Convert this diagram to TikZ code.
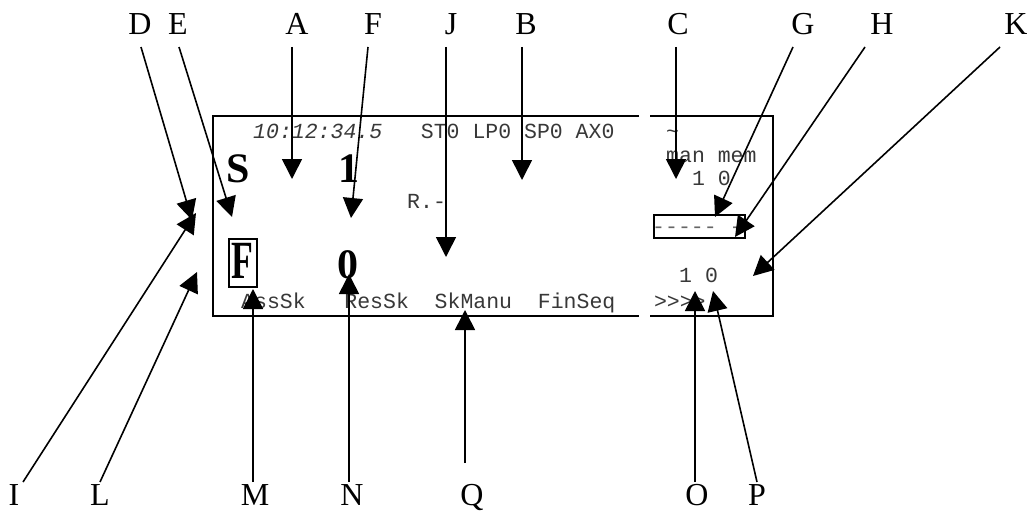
\documentclass[tikz,border=0pt]{standalone}
\usepackage{fontspec}
\setmainfont{Liberation Serif}
\setmonofont{Liberation Mono}
\usetikzlibrary{arrows.meta,calc}
\newcommand\kz{\kern0pt }
\begin{document}
\begin{tikzpicture}[x=1pt,y=-1pt,
  lbl/.style={font=\fontsize{32}{32}\selectfont, inner sep=0pt, anchor=base},
  mono/.style={font=\ttfamily\fontsize{21.5}{22}\selectfont, text=black!78, inner sep=0pt, anchor=base west},
  monoit/.style={mono, font=\ttfamily\itshape\fontsize{21.5}{22}\selectfont},
  bigb/.style={font=\bfseries\fontsize{42}{42}\selectfont, inner sep=0pt, anchor=base west},
  arr/.style={line width=1.6pt, -{Triangle[length=20pt,width=20pt]}},
  frame/.style={line width=2pt}]
\useasboundingbox (0,0) rectangle (1027,511);
% frame with gaps
\draw[frame] (639,116) -- (213,116) -- (213,316) -- (639,316);
\draw[frame] (650,116) -- (773,116) -- (773,316) -- (650,316);
\draw[frame] (654,215) rectangle (745,238);
\draw[frame] (229,239) rectangle (257,287);
% screen texts
\node[monoit] (tm) at (253,138) {10:12:34.5};
\node[mono] (st) at (420.7,138) {ST0 LP0 SP0 AX0};
\node[mono] (tl) at (665.8,138) {\textasciitilde};
\node[mono] (mm) at (666,162) {man mem};
\node[mono] (u10) at (691.8,185) {1 0};
\node[mono, text=black!60] (dsh) at (652,233) {-\kz-\kz-\kz-\kz- -};
\node[mono] (R) at (407,208) {R.-};
\node[mono] (k1) at (241,308) {AssSk};
\node[mono] (k2) at (344.2,308) {ResSk};
\node[mono] (k3) at (434.5,308) {SkManu};
\node[mono] (k4) at (537.7,308) {FinSeq};
\node[mono] (k5) at (653.8,308) {>\kz>\kz>\kz>};
\node[mono] (l10) at (679,282) {1 0};
\node[bigb] (bS) at (226,182) {S};
\node[bigb] (b1) at (338,182) {1};
\node[bigb] (b0) at (337,278) {0};
\node[bigb] (bF) at (231,278) {\scalebox{0.85}[1.28]{F}};
% labels
\foreach \n/\x in {D/140,E/178,A/297,F/373,J/451,B/526,C/678,G/803,H/882,K/1016}
  \node[lbl] (\n) at (\x,35) {\n};
\foreach \n/\x in {I/14,L/100,M/255,N/352,Q/472,O/697,P/757}
  \node[lbl] (\n) at (\x,505) {\n};
% tips
\coordinate (tD) at (192,220);
\coordinate (tE) at (232,217);
\coordinate (tA) at (292,179);
\coordinate (tF) at (351,218);
\coordinate (tJ) at (446,257);
\coordinate (tB) at (522,180);
\coordinate (tC) at (676,179);
\coordinate (tG) at (715,217);
\coordinate (tH) at (735,237);
\coordinate (tK) at (753,276);
\coordinate (tI) at (196,213);
\coordinate (tL) at (197,272);
\coordinate (tM) at (253,289);
\coordinate (tN) at (349,274);
\coordinate (tQ) at (465,310);
\coordinate (tO) at (695,291);
\coordinate (tP) at (713,291);
% arrows
\draw[arr] ($(D.base)+(1,12)$) -- (tD);
\draw[arr] ($(E.base)+(1,12)$) -- (tE);
\draw[arr] ($(A.base)+(-5,12)$) -- (tA);
\draw[arr] ($(F.base)+(-5,12)$) -- (tF);
\draw[arr] ($(J.base)+(-5,12)$) -- (tJ);
\draw[arr] ($(B.base)+(-4,12)$) -- (tB);
\draw[arr] ($(C.base)+(-2,12)$) -- (tC);
\draw[arr] ($(G.base)+(-10,12)$) -- (tG);
\draw[arr] ($(H.base)+(-17,12)$) -- (tH);
\draw[arr] ($(K.base)+(-16,12)$) -- (tK);
\draw[arr] ($(I.base)+(9,-23)$) -- (tI);
\draw[arr] ($(L.base)+(0,-23)$) -- (tL);
\draw[arr] ($(M.base)+(-2,-23)$) -- (tM);
\draw[arr] ($(N.base)+(-3,-23)$) -- (tN);
\draw[arr] ($(Q.base)+(-7,-42)$) -- (tQ);
\draw[arr] ($(O.base)+(-2,-23)$) -- (tO);
\draw[arr] ($(P.base)+(0,-23)$) -- (tP);
\end{tikzpicture}
\end{document}
